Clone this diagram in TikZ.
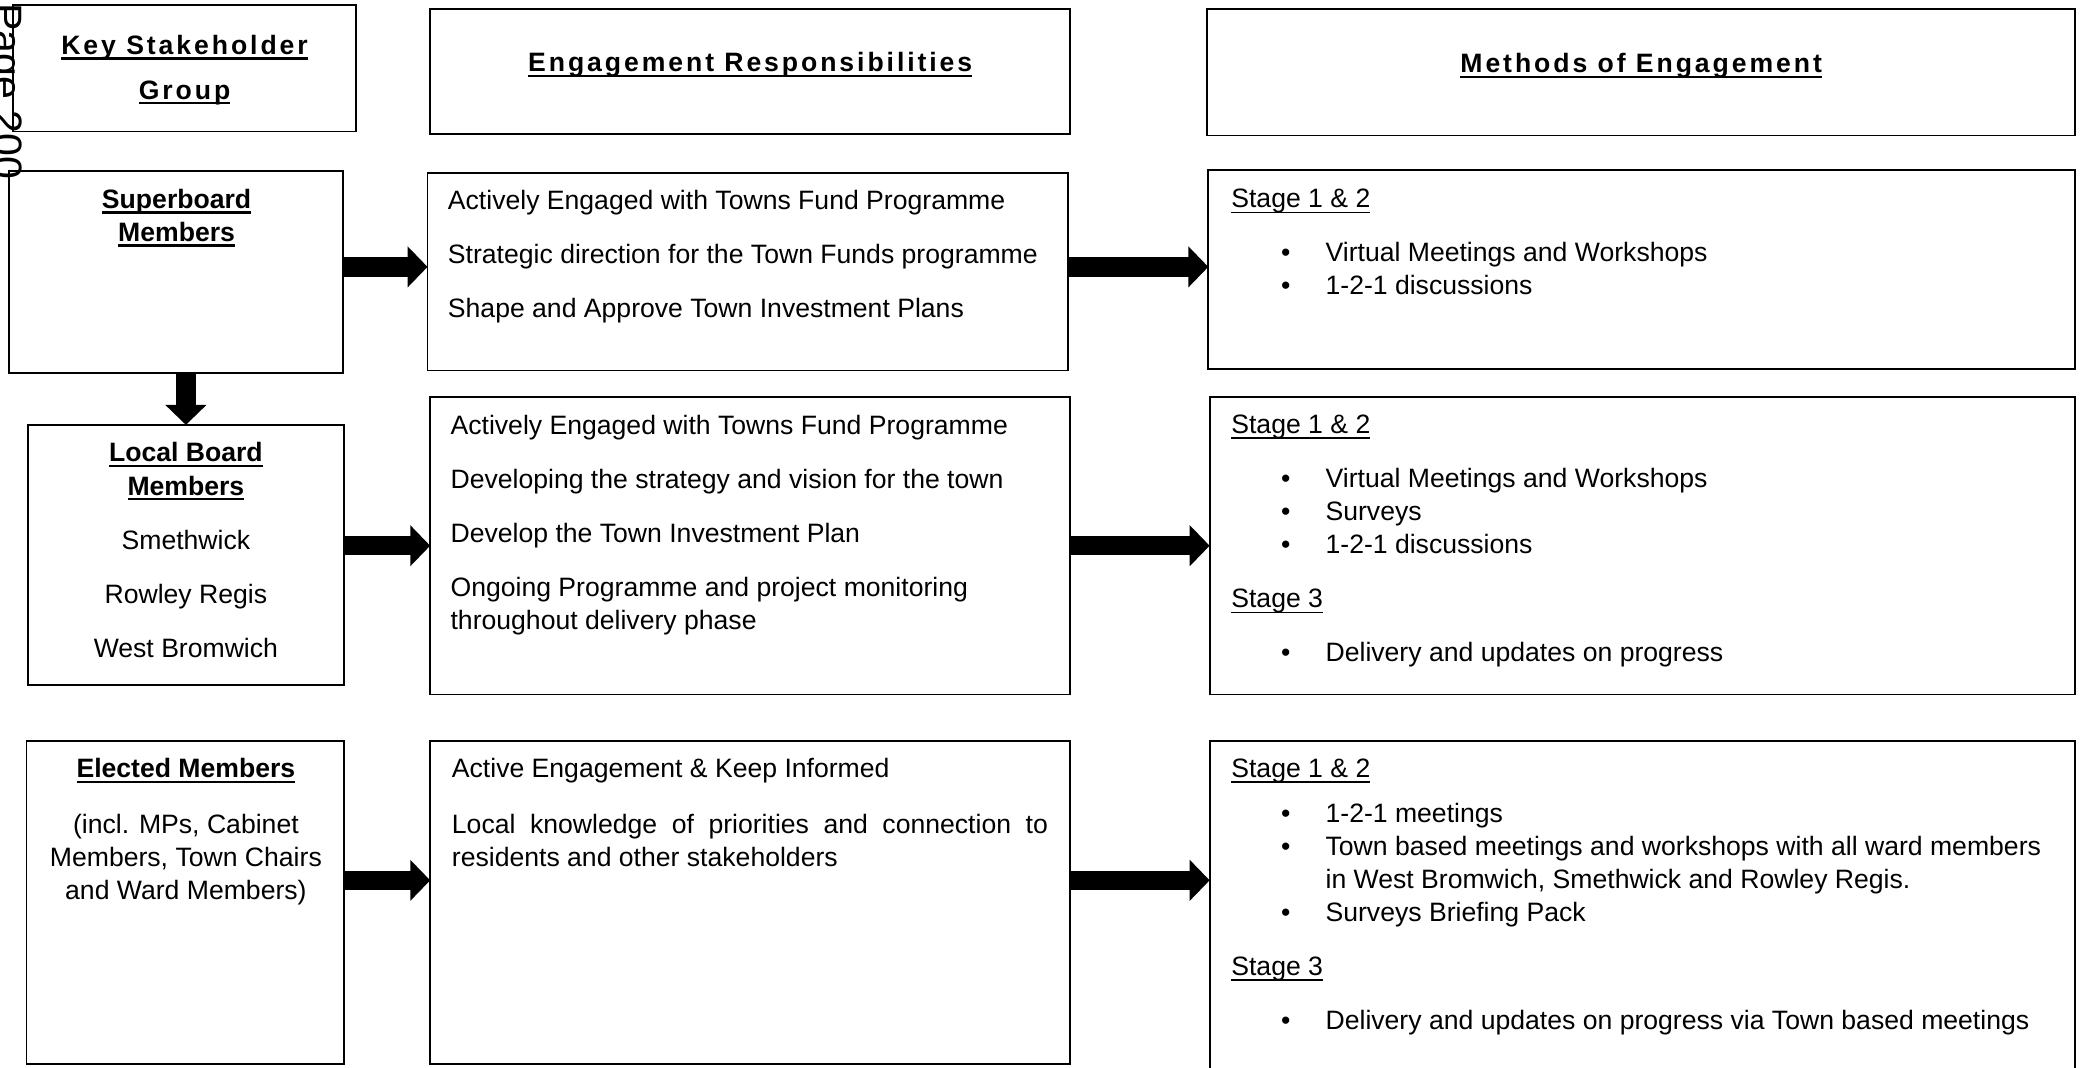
\documentclass[tikz,border=0pt]{standalone}
\usepackage{fontspec}
\setmainfont{Liberation Sans}
\newfontfamily\hdrfont[LetterSpace=11]{Liberation Sans}
\usetikzlibrary{positioning,arrows.meta,calc,fit}

\newlength{\ulwd}
\newcommand{\bul}[2][1pt]{\settowidth{\ulwd}{#2}\rlap{\rule[-2.3pt]{\ulwd}{#1}}#2}
\newcommand{\bodyfont}{\fontsize{11.4}{14.2}\selectfont}
\newcommand{\itm}[1]{\hspace*{0.75cm}\makebox[0.67cm][l]{\textbullet}#1}

\begin{document}
\begin{tikzpicture}[x=0.02cm, y=-0.02cm,
    box/.style={draw, line width=0.8pt, inner sep=0pt, outer sep=0pt},
    txt/.style={inner sep=0pt, anchor=north west, align=left, font=\bodyfont},
    ctr/.style={inner sep=0pt, anchor=north, align=center, font=\bodyfont},
    hdr/.style={inner sep=0pt, anchor=north, align=center, font=\bodyfont\hdrfont\bfseries},
    blk/.style={line width=0.29cm, -{Triangle[length=0.3cm, width=0.6cm]}}]
    \useasboundingbox (0,0) rectangle (1568,804);

    % page stamp
    \node[rotate=-90, anchor=base west, inner sep=0pt, font=\fontsize{17.6}{20}\selectfont] (pg) at (-5,2) {Page 200};

    % column heads
    \node[box, fit={(10,4) (268,99)}] (k0) {};
    \node[box, fit={(324,7) (806,101)}] (e0) {};
    \node[box, fit={(909,7) (1563,102)}] (m0) {};
    \node[hdr] (k0t) at (139,26) {\bul{Key Stakeholder}\\[5pt]\bul{Group}};
    \node[hdr] (e0t) at (565,39) {\bul{Engagement Responsibilities}};
    \node[hdr] (m0t) at (1236,40) {\bul{Methods of Engagement}};

    % boxes
    \node[box, fit={(7,129) (258,281)}] (k1) {};
    \node[box, fit={(322,130) (804,279)}] (e1) {};
    \node[box, fit={(910,128) (1563,278)}] (m1) {};
    \node[box, fit={(21,320) (259,516)}] (k2) {};
    \node[box, fit={(324,299) (806,523)}] (e2) {};
    \node[box, fit={(911,299) (1563,523)}] (m2) {};
    \node[box, fit={(20,558) (259,801)}] (k3) {};
    \node[box, fit={(324,558) (806,801)}] (e3) {};
    \node[box, fit={(911,558) (1563,807)}] (m3) {};

    % stakeholder groups
    \node[ctr] (k1t) at (133,142) {\bul{\textbf{Superboard}}\\\bul{\textbf{Members}}};
    \node[ctr] (k2t) at (140,333) {\bul{\textbf{Local Board}}\\\bul{\textbf{Members}}\\[9pt]Smethwick\\[9pt]Rowley Regis\\[9pt]West Bromwich};
    \node[ctr] (k3t) at (140,571) {\bul{\textbf{Elected Members}}\\[9.6pt](incl. MPs, Cabinet\\Members, Town Chairs\\and Ward Members)};

    % responsibilities
    \node[txt] (e1t) at (337,143) {Actively Engaged with Towns Fund Programme\\[9pt]Strategic direction for the Town Funds programme\\[9pt]Shape and Approve Town Investment Plans};
    \node[txt] (e2t) at (339,312) {Actively Engaged with Towns Fund Programme\\[9pt]Developing the strategy and vision for the town\\[9pt]Develop the Town Investment Plan\\[9pt]Ongoing Programme and project monitoring\\throughout delivery phase};
    \node[txt] (e3t) at (340,571) {Active Engagement \& Keep Informed\\[9.6pt]\makebox[8.98cm][s]{Local knowledge of priorities and connection to}\\residents and other stakeholders};

    % methods
    \node[txt] (m1t) at (927,142) {\bul[0.6pt]{Stage 1 \& 2}\\[9pt]\itm{Virtual Meetings and Workshops}\\\itm{1-2-1 discussions}};
    \node[txt] (m2t) at (927,312) {\bul[0.6pt]{Stage 1 \& 2}\\[9pt]\itm{Virtual Meetings and Workshops}\\\itm{Surveys}\\\itm{1-2-1 discussions}\\[9pt]\bul[0.6pt]{Stage 3}\\[9pt]\itm{Delivery and updates on progress}};
    \node[txt] (m3t) at (927,571) {\bul[0.6pt]{Stage 1 \& 2}\\[5pt]\itm{1-2-1 meetings}\\\itm{Town based meetings and workshops with all ward members}\\\hspace*{1.42cm}in West Bromwich, Smethwick and Rowley Regis.\\\itm{Surveys Briefing Pack}\\[9pt]\bul[0.6pt]{Stage 3}\\[9pt]\itm{Delivery and updates on progress via Town based meetings}};

    % arrows
    \coordinate (r1) at (0,201);
    \coordinate (r2) at (0,411);
    \coordinate (r3) at (0,663);
    \coordinate (dn) at (140,0);
    \draw[blk] (k1.east |- r1) -- (e1.west |- r1);
    \draw[blk] (e1.east |- r1) -- (m1.west |- r1);
    \draw[blk] (k2.east |- r2) -- (e2.west |- r2);
    \draw[blk] (e2.east |- r2) -- (m2.west |- r2);
    \draw[blk] (k3.east |- r3) -- (e3.west |- r3);
    \draw[blk] (e3.east |- r3) -- (m3.west |- r3);
    \draw[blk] (k1.south -| dn) -- (k2.north -| dn);
\end{tikzpicture}
\end{document}
